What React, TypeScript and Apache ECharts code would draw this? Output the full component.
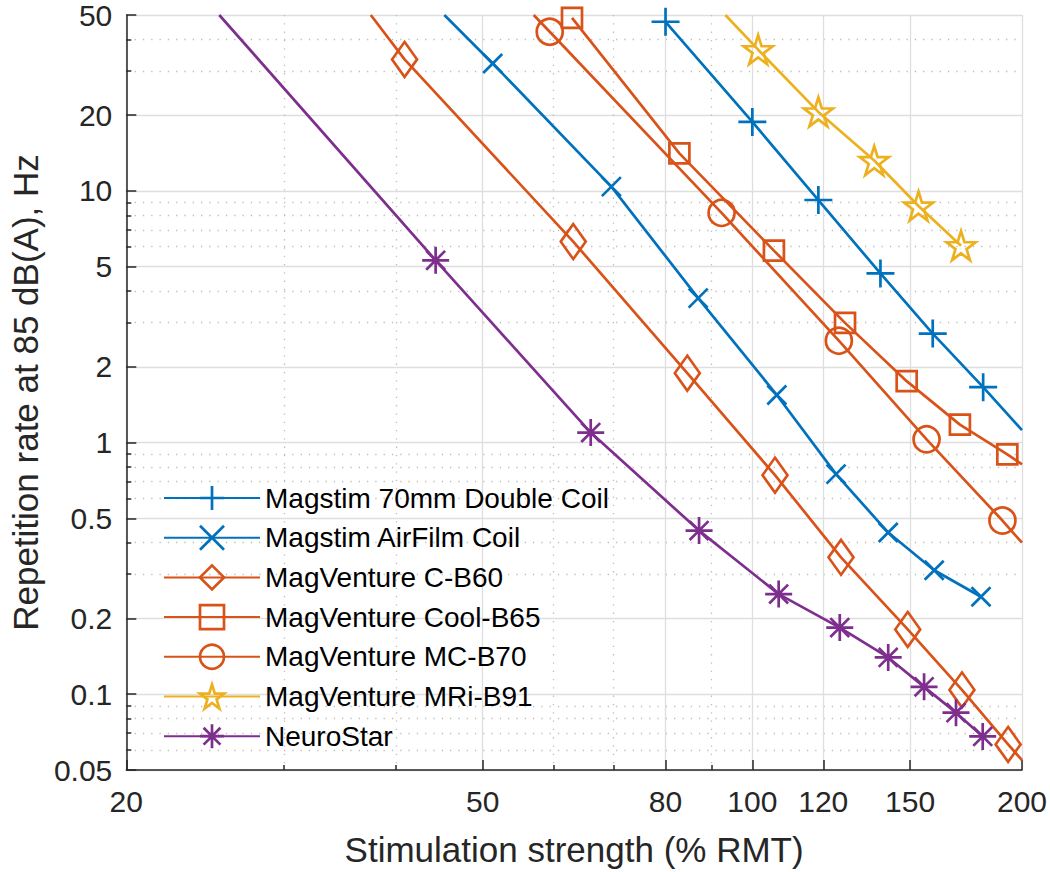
import React, { useEffect, useRef } from "react";
import * as echarts from "echarts";

// ---- Axis ticks ----
const xMajorTicks = [20, 50, 80, 100, 120, 150, 200];
const xMinorTicks = [30, 40, 60, 70, 90];
const yMajorTicks = [0.05, 0.1, 0.2, 0.5, 1, 2, 5, 10, 20, 50];
const yMinorTicks = [0.06, 0.07, 0.08, 0.09, 0.3, 0.4, 0.6, 0.7, 0.8, 0.9, 3, 4, 6, 7, 8, 9, 30, 40];

// ---- Series names ----
const seriesNames = [
  "Magstim 70mm Double Coil",
  "Magstim AirFilm Coil",
  "MagVenture C-B60",
  "MagVenture Cool-B65",
  "MagVenture MC-B70",
  "MagVenture MRi-B91",
  "NeuroStar",
];

// ---- Data (stimulation strength % RMT, repetition rate Hz) ----
const doubleCoilX = [80, 100, 118.5, 139, 159, 181];
const doubleCoilY = [47, 18.8, 9.2, 4.7, 2.71, 1.66];
const doubleCoilHead: number[][] = [];
const doubleCoilTail = [[200, 1.12]];

const airFilmX = [51.3, 69.6, 87, 106.5, 124, 141.8, 159.6, 180];
const airFilmY = [32.1, 10.4, 3.75, 1.545, 0.749, 0.439, 0.311, 0.244];
const airFilmHead = [[45.3, 50]];
const airFilmTail: number[][] = [];

const cb60X = [40.9, 63.1, 84.6, 106, 125.6, 149.1, 171.4, 193];
const cb60Y = [33.3, 6.29, 1.887, 0.742, 0.35, 0.181, 0.104, 0.0632];
const cb60Head = [[37.5, 50]];
const cb60Tail = [[200, 0.0547]];

const coolB65X = [62.9, 82.9, 105.7, 126.9, 148.7, 170.5, 192.6];
const coolB65Y = [48.7, 14.1, 5.79, 2.99, 1.754, 1.178, 0.898];
const coolB65Head: number[][] = [];
const coolB65Tail = [[200, 0.82]];

const mcB70X = [59.4, 92.4, 124.9, 156.5, 190.2];
const mcB70Y = [42.9, 8.18, 2.54, 1.03, 0.49];
const mcB70Head = [[57.0, 50]];
const mcB70Tail = [[200, 0.4]];

const mriB91X = [101.5, 118.5, 136.8, 153.3, 171];
const mriB91Y = [36.4, 20.6, 13.2, 8.71, 6.06];
const mriB91Head = [[93.3, 50]];
const mriB91Tail: number[][] = [];

const neuroStarX = [44.3, 66, 87.2, 107, 125.2, 141.8, 155.5, 168.8, 180.8];
const neuroStarY = [5.3, 1.096, 0.447, 0.25, 0.184, 0.14, 0.107, 0.0845, 0.068];
const neuroStarHead = [[25.4, 50]];
const neuroStarTail: number[][] = [];

// ---- Styles ----
const BLUE = "#0072BD";
const ORANGE = "#D95319";
const YELLOW = "#EDB120";
const PURPLE = "#7E2F8E";
const FONT = "'Liberation Sans', Arial, Helvetica, sans-serif";
const AX = "#262626";
const LW = 2.7;

const PLUS = "path://M10,0L10,20M0,10L20,10";
const CROSS = "path://M0,0L20,20M20,0L0,20";
const ASTER = "path://M10,0L10,20M0,10L20,10M3,3L17,17M17,3L3,17";
const STAR =
  "path://M10,0L12.245,6.91L19.51,6.91L13.63,11.18L15.88,18.09L10,13.82L4.12,18.09L6.37,11.18L0.49,6.91L7.755,6.91Z";

function buildData(x: number[], y: number[], head: number[][], tail: number[][]) {
  const out: any[] = [];
  head.forEach((p) => out.push({ value: p, symbol: "none" }));
  x.forEach((v, i) => out.push([v, y[i]]));
  tail.forEach((p) => out.push({ value: p, symbol: "none" }));
  return out;
}

function mkSeries(name: string, color: string, symbol: string, size: any, data: any[]) {
  return {
    type: "line",
    name,
    data,
    xAxisIndex: 0,
    yAxisIndex: 0,
    symbol,
    symbolSize: size,
    showSymbol: true,
    showAllSymbol: true,
    lineStyle: { color, width: LW },
    itemStyle: { color: "rgba(0,0,0,0)", borderColor: color, borderWidth: LW },
    emphasis: { disabled: true },
    silent: true,
  };
}

const fmt = (v: any) => String(parseFloat(Number(v).toPrecision(6)));

export default function App() {
  const ref = useRef<HTMLDivElement>(null);
  useEffect(() => {
    if (!ref.current) return;
    const chart = echarts.init(ref.current, undefined, { renderer: "svg" });
    const majorGrid = { color: "#dedede", width: 1.3 };
    const minorGrid = { color: "#bdbdbd", width: 1.3, type: [1.3, 7] as any };
    const option: any = {
      animation: false,
      textStyle: { fontFamily: FONT },
      grid: { left: 117, top: 10, right: 23, bottom: 99, containLabel: false },
      xAxis: [
        {
          type: "log",
          logBase: 10,
          min: 20,
          max: 200,
          position: "bottom",
          name: "Stimulation strength (% RMT)",
          nameLocation: "middle",
          nameGap: 62,
          nameTextStyle: { fontSize: 35, color: AX, fontFamily: FONT },
          axisLine: { show: true, onZero: false, lineStyle: { color: AX, width: 1.5 } },
          axisTick: { show: true, inside: true, length: 10, customValues: xMajorTicks, lineStyle: { color: AX, width: 1.5 } },
          axisLabel: { show: true, customValues: xMajorTicks, fontSize: 30, color: AX, margin: 16, fontFamily: FONT, formatter: fmt },
          splitLine: { show: true, lineStyle: majorGrid },
          minorTick: { show: false },
          minorSplitLine: { show: false },
        },
        {
          type: "log",
          logBase: 10,
          min: 20,
          max: 200,
          position: "bottom",
          axisLine: { show: false, onZero: false },
          axisTick: { show: true, inside: true, length: 5, customValues: xMinorTicks, lineStyle: { color: AX, width: 1.5 } },
          axisLabel: { show: false },
          splitLine: { show: true, lineStyle: minorGrid },
        },
      ],
      yAxis: [
        {
          type: "log",
          logBase: 10,
          min: 0.05,
          max: 50,
          position: "left",
          name: "Repetition rate at 85 dB(A), Hz",
          nameLocation: "middle",
          nameGap: 78,
          nameTextStyle: { fontSize: 35, color: AX, fontFamily: FONT },
          axisLine: { show: true, onZero: false, lineStyle: { color: AX, width: 1.5 } },
          axisTick: { show: true, inside: true, length: 10, customValues: yMajorTicks, lineStyle: { color: AX, width: 1.5 } },
          axisLabel: { show: true, customValues: yMajorTicks, fontSize: 30, color: AX, margin: 14, fontFamily: FONT, formatter: fmt },
          splitLine: { show: true, lineStyle: majorGrid },
          minorTick: { show: false },
          minorSplitLine: { show: false },
        },
        {
          type: "log",
          logBase: 10,
          min: 0.05,
          max: 50,
          position: "left",
          axisLine: { show: false, onZero: false },
          axisTick: { show: true, inside: true, length: 5, customValues: yMinorTicks, lineStyle: { color: AX, width: 1.5 } },
          axisLabel: { show: false },
          splitLine: { show: true, lineStyle: minorGrid },
        },
      ],
      legend: {
        orient: "vertical",
        left: 158,
        top: 479,
        padding: 5,
        itemWidth: 96,
        itemHeight: 30,
        itemGap: 11.7,
        selectedMode: false,
        data: seriesNames,
        textStyle: { fontSize: 28, color: "#000", fontFamily: FONT },
        itemStyle: { borderWidth: LW },
      },
      series: [
        mkSeries(seriesNames[0], BLUE, PLUS, 28, buildData(doubleCoilX, doubleCoilY, doubleCoilHead, doubleCoilTail)),
        mkSeries(seriesNames[1], BLUE, CROSS, 19, buildData(airFilmX, airFilmY, airFilmHead, airFilmTail)),
        mkSeries(seriesNames[2], ORANGE, "diamond", [25, 35], buildData(cb60X, cb60Y, cb60Head, cb60Tail)),
        mkSeries(seriesNames[3], ORANGE, "rect", 20, buildData(coolB65X, coolB65Y, coolB65Head, coolB65Tail)),
        mkSeries(seriesNames[4], ORANGE, "circle", 26, buildData(mcB70X, mcB70Y, mcB70Head, mcB70Tail)),
        mkSeries(seriesNames[5], YELLOW, STAR, 29, buildData(mriB91X, mriB91Y, mriB91Head, mriB91Tail)),
        mkSeries(seriesNames[6], PURPLE, ASTER, 27, buildData(neuroStarX, neuroStarY, neuroStarHead, neuroStarTail)),
      ],
    };
    chart.setOption(option);
    return () => chart.dispose();
  }, []);
  return (
    <div
      ref={ref}
      style={{ position: "absolute", left: 0, top: 0, width: 1050, height: 872, background: "#fff" }}
    />
  );
}
